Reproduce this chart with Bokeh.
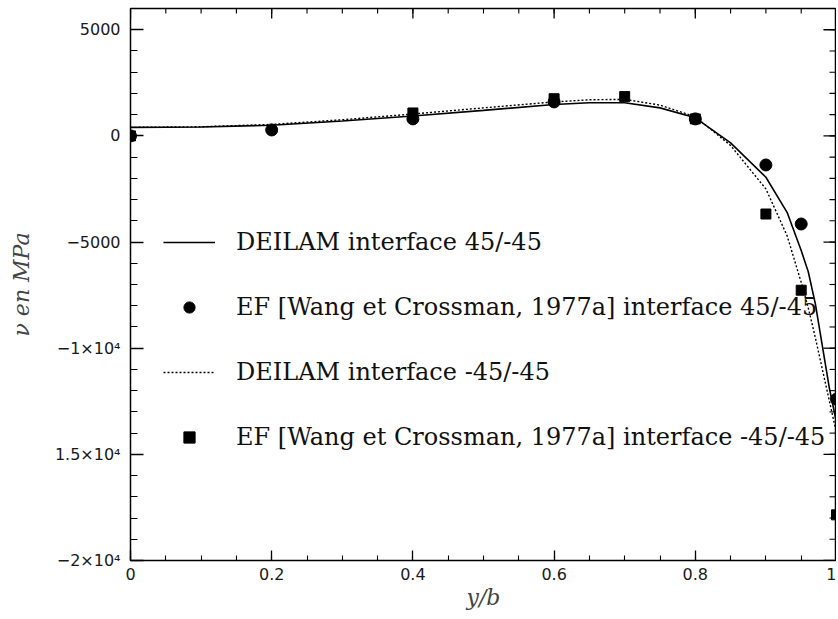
import math
from bokeh.plotting import figure
from bokeh.models import (LinearAxis, FixedTicker, Range1d, Legend, LegendItem)
from bokeh.embed import file_html
from bokeh.resources import INLINE

# DEILAM interface 45/-45 (solid)
x_solid = [0.0, 0.1, 0.2, 0.3, 0.4, 0.5, 0.6, 0.65, 0.7, 0.75, 0.8, 0.85, 0.9, 0.93, 0.95, 0.96, 0.97, 0.98, 0.99, 1.0]
y_solid = [400, 420, 500, 700, 940, 1200, 1480, 1560, 1560, 1320, 850, -330, -1950, -3600, -5400, -6400, -7900, -9900, -11900, -13500]

# DEILAM interface -45/-45 (dotted)
x_dot = [0.0, 0.1, 0.2, 0.3, 0.4, 0.5, 0.6, 0.65, 0.7, 0.75, 0.8, 0.85, 0.9, 0.93, 0.95, 0.96, 0.97, 0.98, 0.99, 1.0]
y_dot = [400, 430, 540, 760, 1030, 1320, 1600, 1700, 1720, 1450, 900, -450, -2500, -4700, -6900, -8100, -9500, -11000, -12500, -14000]

# EF [Wang et Crossman, 1977a] interface 45/-45 (circles)
x_circ = [0.0, 0.2, 0.4, 0.6, 0.8, 0.9, 0.95, 1.0]
y_circ = [0, 280, 800, 1600, 800, -1370, -4150, -12400]

# EF [Wang et Crossman, 1977a] interface -45/-45 (squares)
x_sq = [0.0, 0.4, 0.6, 0.7, 0.8, 0.9, 0.95, 1.0]
y_sq = [0, 1080, 1750, 1850, 800, -3680, -7270, -17850]

x_ticks = [0, 0.2, 0.4, 0.6, 0.8, 1.0]
x_tick_labels = ["0", "0.2", "0.4", "0.6", "0.8", "1"]
x_minor = [round(i * 0.05, 2) for i in range(21)]
y_ticks = [-20000, -15000, -10000, -5000, 0, 5000]
y_tick_labels = ["\u22122\u00d710\u2074", "1.5\u00d710\u2074", "\u22121\u00d710\u2074", "\u22125000", "0", "5000"]
y_minor = list(range(-20000, 6001, 1000))
x_min, x_max = 0, 1
y_min, y_max = -20000, 6000

labels = ["DEILAM interface 45/-45",
          "EF [Wang et Crossman, 1977a] interface 45/-45",
          "DEILAM interface -45/-45",
          "EF [Wang et Crossman, 1977a] interface -45/-45"]

p = figure(width=836, height=615, output_backend="svg", toolbar_location=None,
           x_range=Range1d(x_min, x_max), y_range=Range1d(y_min, y_max),
           x_axis_location=None, y_axis_location=None,
           min_border_left=130, min_border_right=0, min_border_top=8, min_border_bottom=55)
p.grid.visible = False
p.outline_line_color = "black"
p.outline_line_width = 1.5
p.background_fill_color = "white"
p.border_fill_color = "white"

TICK_FONT = "DejaVu Sans"

def style_axis(ax, tin, minin):
    ax.axis_line_color = None
    ax.major_tick_in = tin
    ax.major_tick_out = 0
    ax.minor_tick_in = minin
    ax.minor_tick_out = 0
    ax.major_tick_line_color = "black"
    ax.minor_tick_line_color = "black"
    ax.major_tick_line_width = 1.3
    ax.minor_tick_line_width = 1.1
    ax.major_label_text_font = TICK_FONT
    ax.major_label_text_font_size = "16px"
    ax.major_label_text_color = "#1a1a1a"

xt = FixedTicker(ticks=x_ticks, minor_ticks=x_minor)
yt = FixedTicker(ticks=y_ticks, minor_ticks=y_minor)

xb = LinearAxis(ticker=xt)
style_axis(xb, 10, 5)
xb.major_label_overrides = {t: l for t, l in zip(x_ticks, x_tick_labels)}
xb.major_label_standoff = 7
xb.axis_label = "y/b"
xb.axis_label_text_font = "DejaVu Serif"
xb.axis_label_text_font_style = "italic"
xb.axis_label_text_font_size = "22px"
xb.axis_label_standoff = 2
p.add_layout(xb, "below")

yl = LinearAxis(ticker=yt)
style_axis(yl, 13, 7)
yl.major_label_overrides = {t: l for t, l in zip(y_ticks, y_tick_labels)}
yl.major_label_standoff = 10
yl.axis_label = "\u03bd en MPa"
yl.axis_label_text_font = "DejaVu Serif"
yl.axis_label_text_font_style = "italic"
yl.axis_label_text_font_size = "22px"
yl.axis_label_standoff = 18
p.add_layout(yl, "left")

# ticks on the top and right edges of the frame (inward), drawn as clipped dash markers
p.scatter(x_ticks, [y_max] * len(x_ticks), marker="dash", angle=math.pi / 2, size=20,
          line_color="black", line_width=1.3)
p.scatter(x_minor, [y_max] * len(x_minor), marker="dash", angle=math.pi / 2, size=10,
          line_color="black", line_width=1.1)
p.scatter([x_max] * len(y_ticks), y_ticks, marker="dash", size=26,
          line_color="black", line_width=1.3)
p.scatter([x_max] * len(y_minor), y_minor, marker="dash", size=14,
          line_color="black", line_width=1.1)

r1 = p.line(x_solid, y_solid, line_color="black", line_width=1.6)
r2 = p.scatter(x_circ, y_circ, marker="circle", size=12, fill_color="black", line_color="black")
r3 = p.line(x_dot, y_dot, line_color="black", line_width=1.4, line_dash="2 2")
r4 = p.scatter(x_sq, y_sq, marker="square", size=10, fill_color="black", line_color="black")

legend = Legend(items=[LegendItem(label=labels[0], renderers=[r1]),
                       LegendItem(label=labels[1], renderers=[r2]),
                       LegendItem(label=labels[2], renderers=[r3]),
                       LegendItem(label=labels[3], renderers=[r4])],
                location=(33, 109), orientation="vertical")
legend.border_line_color = None
legend.background_fill_alpha = 0
legend.padding = 0
legend.margin = 0
legend.spacing = 37
legend.glyph_width = 52
legend.glyph_height = 28
legend.label_height = 28
legend.label_standoff = 21
legend.label_text_font = "DejaVu Serif"
legend.label_text_font_size = "24px"
legend.label_text_color = "#111111"
p.add_layout(legend, "center")

open("out.html", "w").write(file_html(p, INLINE))
